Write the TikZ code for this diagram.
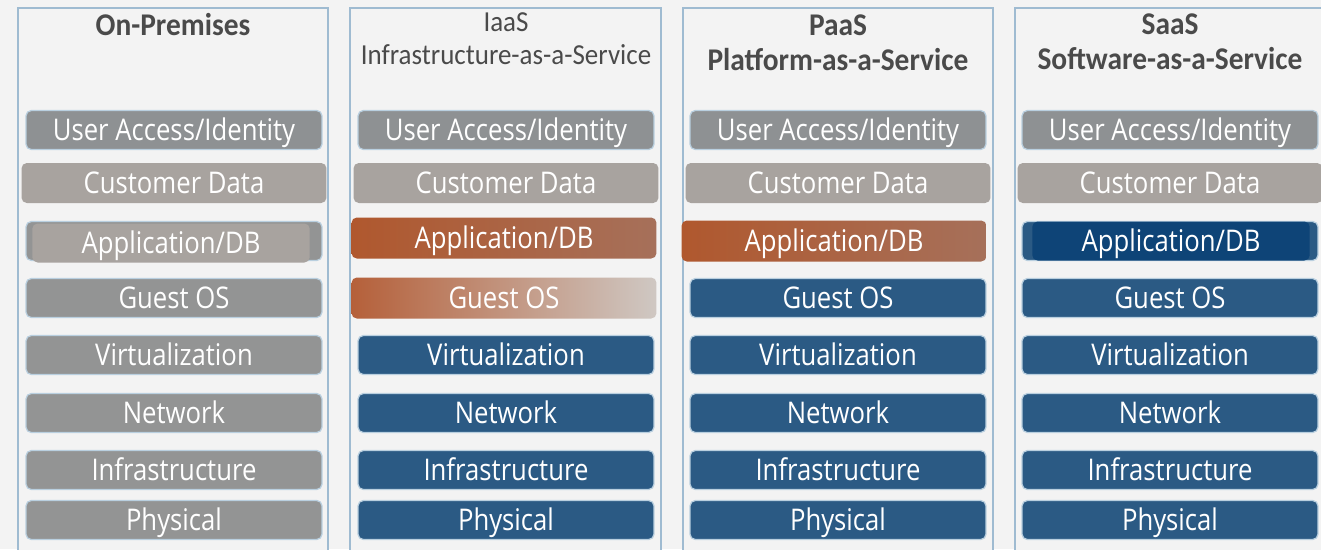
\documentclass[tikz,border=0pt]{standalone}
\usepackage{fontspec}
\setmainfont[FakeStretch=0.93]{Carlito}
\newfontfamily\barfont[FakeStretch=0.86]{Open Sans}
\usetikzlibrary{positioning}
\definecolor{pagebg}{HTML}{F3F3F3}
\definecolor{frameblue}{HTML}{9FBBD1}
\definecolor{edgeblue}{HTML}{B9CFDF}
\definecolor{titlegrey}{HTML}{4A4A4A}
\definecolor{stackgrey}{HTML}{939494}
\definecolor{accessgrey}{HTML}{8E9193}
\definecolor{datagrey}{HTML}{A8A39F}
\definecolor{stackblue}{HTML}{2B5A84}
\definecolor{appblue}{HTML}{0E4477}
\definecolor{rust}{HTML}{B0582E}
\definecolor{rustgrey}{HTML}{9C8C84}
\definecolor{rustlight}{HTML}{A6705A}
\definecolor{osrust}{HTML}{B5603A}
\definecolor{osmid}{HTML}{BF8B72}
\definecolor{oslight}{HTML}{CFC8C3}

\begin{document}
\begin{tikzpicture}[x=0.02cm,y=-0.02cm,
    panel/.style={draw=frameblue,line width=1pt,fill=pagebg},
    title/.style={text=titlegrey,align=center,font=\bfseries\fontsize{18}{20}\selectfont},
    layer/.style={rounded corners=3pt,draw=edgeblue,line width=0.7pt,minimum width=5.92cm,
      minimum height=0.78cm,inner sep=0pt,text=white,text height=15pt,text depth=2.6pt,
      font=\barfont\fontsize{17}{17}\selectfont},
    greylayer/.style={layer,fill=stackgrey},
    bluelayer/.style={layer,fill=stackblue},
    accesslayer/.style={layer,fill=accessgrey},
    datalayer/.style={layer,draw=none,fill=datagrey,minimum width=6.1cm,minimum height=0.8cm},
    rustlayer/.style={layer,draw=none,minimum width=6.1cm,minimum height=0.82cm,
      left color=rust,middle color=rustgrey,right color=rustlight}]
    \useasboundingbox (0,0) rectangle (1321,549);
    \clip (0,0) rectangle (1321,549);
    \fill[pagebg] (0,0) rectangle (1321,549);

    % the four service models
    \draw[panel] (18,8) rectangle (328,560);
    \draw[panel] (350,8) rectangle (661,560);
    \draw[panel] (683,8) rectangle (993,560);
    \draw[panel] (1015,8) rectangle (1330,560);

    \node[title] (op-title) at (173,25) {On-Premises};
    \node[title,font=\fontsize{16.5}{19}\selectfont] (iaas-title) at (506,39) {IaaS\\Infrastructure-as-a-Service};
    \node[title] (paas-title) at (838,43) {PaaS\\Platform-as-a-Service};
    \node[title] (saas-title) at (1170,42) {SaaS\\Software-as-a-Service};

    % top rows, same in every column
    \foreach \col/\x in {op/174,iaas/506,paas/838,saas/1170}{
      \node[accesslayer] (\col-access) at (\x,130) {User Access/Identity};
      \node[datalayer] (\col-data) at (\x,183) {Customer Data};
    }

    % on-premises: all grey
    \node[greylayer] (op-appbase) at (174,241) {};
    \node[layer,draw=none,fill=datagrey,minimum width=5.55cm] (op-app) at (171,243) {Application/DB};
    \node[greylayer] (op-os) at (174,298) {Guest OS};
    \node[greylayer] (op-virt) at (174,355) {Virtualization};
    \node[greylayer] (op-net) at (174,413) {Network};
    \node[greylayer] (op-infra) at (174,470) {Infrastructure};
    \node[greylayer] (op-phys) at (174,520) {Physical};

    % IaaS
    \node[rustlayer] (iaas-app) at (504,238) {Application/DB};
    \node[rustlayer,left color=osrust,middle color=osmid,right color=oslight] (iaas-os) at (504,298) {Guest OS};

    % PaaS and SaaS
    \node[rustlayer] (paas-app) at (834,241) {Application/DB};
    \node[bluelayer] (saas-appbase) at (1170,241) {};
    \node[layer,draw=none,fill=appblue,minimum width=5.55cm] (saas-app) at (1171,241) {Application/DB};
    \foreach \col/\x in {paas/838,saas/1170}{
      \node[bluelayer] (\col-os) at (\x,298) {Guest OS};
    }

    % lower rows, provider side
    \foreach \col/\x in {iaas/506,paas/838,saas/1170}{
      \node[bluelayer] (\col-virt) at (\x,355) {Virtualization};
      \node[bluelayer] (\col-net) at (\x,413) {Network};
      \node[bluelayer] (\col-infra) at (\x,470) {Infrastructure};
      \node[bluelayer] (\col-phys) at (\x,520) {Physical};
    }
\end{tikzpicture}
\end{document}
